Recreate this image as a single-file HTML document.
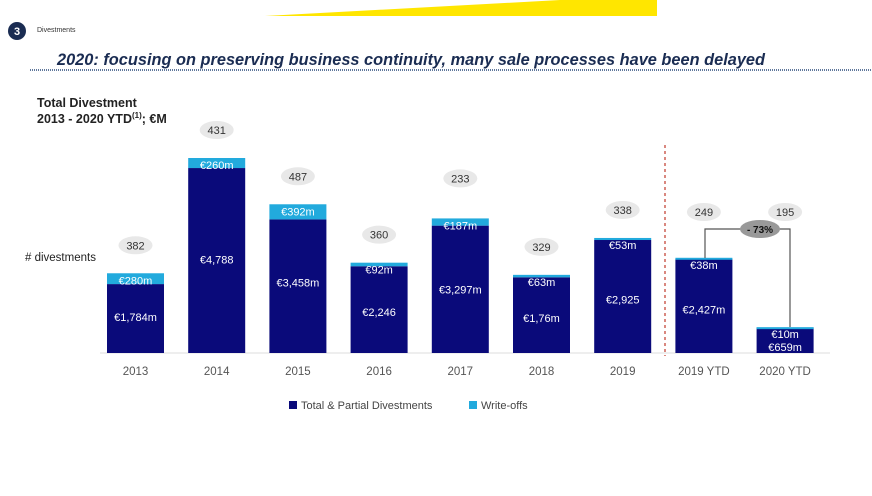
<!DOCTYPE html>
<html><head><meta charset="utf-8"><style>
body{margin:0;width:872px;height:491px;background:#fff;overflow:hidden;font-family:"Liberation Sans",sans-serif}
</style></head><body>
<svg width="872" height="491" font-family="Liberation Sans, sans-serif">
<polygon points="265,16 560,0 657,0 657,16" fill="#ffe600"/>
<circle cx="17" cy="31" r="9" fill="#1a2c52"/>
<text x="17" y="35" font-size="11" font-weight="bold" fill="#fff" text-anchor="middle">3</text>
<text x="37" y="32" font-size="7" fill="#333">Divestments</text>
<text x="57" y="65" font-size="17" font-weight="bold" font-style="italic" fill="#1a2c52" textLength="708" lengthAdjust="spacingAndGlyphs">2020: focusing on preserving business continuity, many sale processes have been delayed</text>
<line x1="30" y1="70" x2="872" y2="70" stroke="#2a4a7a" stroke-width="1.5" stroke-dasharray="1,1"/>
<text x="37" y="107" font-size="12.5" font-weight="bold" fill="#222">Total Divestment</text>
<text x="37" y="123" font-size="12.5" font-weight="bold" fill="#222">2013 - 2020 YTD<tspan font-size="8" dy="-5">(1)</tspan><tspan dy="5">; €M</tspan></text>
<text x="25" y="261" font-size="11.5" fill="#222"># divestments</text>
<line x1="100" y1="353" x2="830" y2="353" stroke="#ddd"/>
<line x1="665" y1="145" x2="665" y2="356" stroke="#c0392b" stroke-width="1.2" stroke-dasharray="3,3"/>
<g id="bars"></g>
<polyline points="705,258 705,229 790,229 790,327" fill="none" stroke="#555" stroke-width="1.2"/>
<ellipse cx="760" cy="229" rx="20" ry="9" fill="#999"/>
<text x="760" y="233" font-size="10" font-weight="bold" fill="#111" text-anchor="middle">- 73%</text>
<rect x="289" y="401" width="8" height="8" fill="#0a0a7a"/>
<text x="301" y="409" font-size="11" fill="#444">Total &amp; Partial Divestments</text>
<rect x="469" y="401" width="8" height="8" fill="#22aadd"/>
<text x="481" y="409" font-size="11" fill="#444">Write-offs</text>
</svg>
<script>
const categories=["2013","2014","2015","2016","2017","2018","2019","2019 YTD","2020 YTD"];
const divestments=[1784,4788,3458,2246,3297,1960,2925,2427,659];
const writeoffs=[280,260,392,92,187,63,53,38,10];
const counts=[382,431,487,360,233,329,338,249,195];
const divLabels=["€1,784m","€4,788","€3,458m","€2,246","€3,297m","€1,76m","€2,925","€2,427m","€659m"];
const woLabels=["€280m","€260m","€392m","€92m","€187m","€63m","€53m","€38m","€10m"];
const NS="http://www.w3.org/2000/svg";
const g=document.getElementById('bars');
const base=353,scale=195/5048;
const xPos=i=>107+i*81.2, bw=57;
const y=v=>base-v*scale;
function mk(t,a){const e=document.createElementNS(NS,t);for(const k in a)e.setAttribute(k,a[k]);g.appendChild(e);return e;}
categories.forEach((c,i)=>{
 const x=xPos(i),d=divestments[i],w=writeoffs[i];
 const r1=mk('rect',{x:x,y:y(d),width:bw,height:base-y(d),fill:'#0a0a7a'});
 
 
 const r2=mk('rect',{x:x,y:y(d+w),width:bw,height:Math.max(2,y(d)-y(d+w)),fill:'#22aadd'});
 
 
 const top=y(d+w);
 const t1=mk('text',{x:x+bw/2,y:top+11,'font-size':11,fill:'#fff','text-anchor':'middle'});t1.textContent=woLabels[i];
 
 
 const dy=i===8?base-2:(top+base)/2+8;
 const t2=mk('text',{x:x+bw/2,y:dy,'font-size':11,fill:'#fff','text-anchor':'middle'});t2.textContent=divLabels[i];
 
 
 let by=top-28; if(i===4)by=top-40; if(i>=7)by=212;
 const el=mk('ellipse',{cx:x+bw/2,cy:by,rx:17,ry:9,fill:'#e8e8e8'});
 
 
 const t3=mk('text',{x:x+bw/2,y:by+4,'font-size':11,fill:'#333','text-anchor':'middle'});t3.textContent=counts[i];
 
 
 const t4=mk('text',{x:x+bw/2,y:375,'font-size':11.5,fill:'#555','text-anchor':'middle'});t4.textContent=c;
 
 
});
</script>
</body></html>
